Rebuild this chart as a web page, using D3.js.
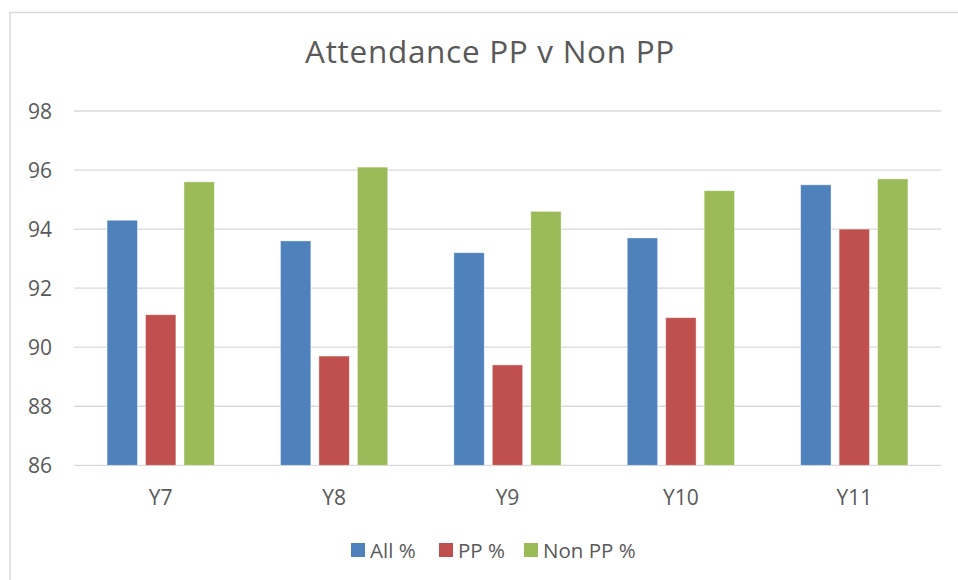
<!DOCTYPE html>
<html>
<head>
<meta charset="utf-8">
<script src="https://cdn.jsdelivr.net/npm/d3@7"></script>
<style>
  body { margin: 0; background: #fff; }
  text { font-family: "Open Sans", sans-serif; fill: #595959; }
</style>
</head>
<body>
<div class="chart"></div>
<script>
// chart data
const years = ['Y7', 'Y8', 'Y9', 'Y10', 'Y11'];
const seriesNames = ['All %', 'PP %', 'Non PP %'];
const allPct = [94.3, 93.6, 93.2, 93.7, 95.5];
const ppPct = [91.1, 89.7, 89.4, 91.0, 94.0];
const nonPpPct = [95.6, 96.1, 94.6, 95.3, 95.7];
const yTicks = [86, 88, 90, 92, 94, 96, 98];
const colours = ['#4f81bd', '#c0504d', '#9bbb59'];

const w = 958;
const h = 580;
const m = {top: 111, left: 74, right: 17, bottom: 115};

const values = [allPct, ppPct, nonPpPct];
const rows = years.map((y, i) => ({year: y, vals: values.map(v => v[i])}));

const svg = d3.select('.chart')
              .append('svg')
              .attr('width', w)
              .attr('height', h);

// chart area outline (only top and left show in the frame)
svg.append('rect')
   .attr('x', 10).attr('y', 12.5)
   .attr('width', w + 20).attr('height', h + 20)
   .attr('fill', 'none')
   .attr('stroke', '#d9d9d9')
   .attr('stroke-width', 1.5);

const x0 = d3.scaleBand()
             .domain(years)
             .range([m.left, w - m.right])
             .paddingInner(0)
             .paddingOuter(0);

const x1 = d3.scaleBand()
             .domain(seriesNames)
             .range([0, x0.bandwidth()])
             .paddingInner(0.21)
             .paddingOuter(0.86);

const y = d3.scaleLinear()
            .domain([86, 98])
            .range([h - m.bottom + 0.3, m.top]);

// gridlines
svg.append('g')
   .selectAll('line')
   .data(yTicks)
   .enter()
   .append('line')
   .attr('x1', m.left)
   .attr('x2', w - m.right)
   .attr('y1', d => y(d))
   .attr('y2', d => y(d))
   .attr('stroke', '#d9d9d9')
   .attr('stroke-width', 1.3);

// y axis labels
const yAxis = svg.append('g')
   .attr('transform', `translate(${m.left - 22},0)`)
   .call(d3.axisLeft(y).tickValues(yTicks).tickSize(0).tickPadding(0));
yAxis.select('.domain').remove();
yAxis.selectAll('text')
     .attr('font-size', 21)
     .attr('dy', '0.35em')
     .attr('font-family', '"Open Sans", sans-serif')
     .attr('fill', '#595959');

// bars
svg.append('g')
   .selectAll('g')
   .data(rows)
   .enter()
   .append('g')
   .attr('transform', d => `translate(${x0(d.year)},0)`)
   .selectAll('rect')
   .data(d => d.vals.map((v, i) => ({name: seriesNames[i], v: v, c: colours[i]})))
   .enter()
   .append('rect')
   .attr('x', d => x1(d.name))
   .attr('width', x1.bandwidth())
   .attr('y', d => y(d.v))
   .attr('height', d => y(86) - y(d.v))
   .attr('fill', d => d.c)
   .attr('stroke', 'rgba(255,255,255,0.5)')
   .attr('stroke-width', 0.8);

// x axis labels
const xAxis = svg.append('g')
   .attr('transform', `translate(0,${h - m.bottom})`)
   .call(d3.axisBottom(x0).tickSize(0).tickPadding(25));
xAxis.select('.domain').remove();
xAxis.selectAll('text')
     .attr('font-size', 21)
     .attr('font-family', '"Open Sans", sans-serif')
     .attr('fill', '#595959');

// title
svg.append('text')
   .attr('x', 490)
   .attr('y', 63)
   .attr('text-anchor', 'middle')
   .attr('font-size', 31.5)
   .attr('letter-spacing', 0.7)
   .text('Attendance PP v Non PP');

// legend
const legendX = [351, 439, 524];
const legend = svg.append('g')
   .selectAll('g')
   .data(seriesNames)
   .enter()
   .append('g')
   .attr('transform', (d, i) => `translate(${legendX[i]},543)`);
legend.append('rect')
      .attr('width', 14)
      .attr('height', 14)
      .attr('fill', (d, i) => colours[i]);
legend.append('text')
      .attr('x', 19)
      .attr('y', 14.5)
      .attr('font-size', 20.5)
      .text(d => d);
</script>
</body>
</html>
